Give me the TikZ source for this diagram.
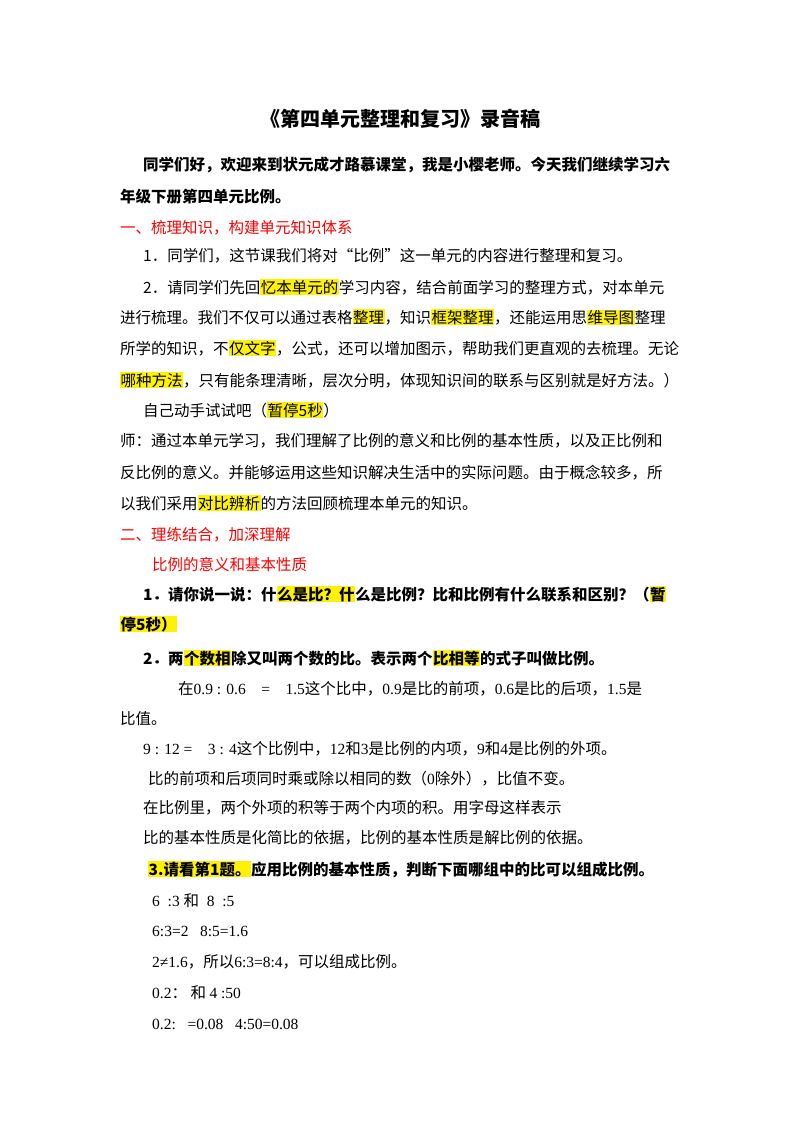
\documentclass[tikz,border=0pt]{standalone}
\usepackage{fontspec}
\setmainfont{Noto Sans CJK SC}
\newfontfamily\latinf{Liberation Serif}
\usepackage{xcolor}
\newcommand{\hl}[1]{{\setlength{\fboxsep}{0.5pt}\colorbox{yellow}{#1}}}
\begin{document}
\begin{tikzpicture}[x=1pt,y=-1pt,
  ln/.style={anchor=base west,inner sep=0pt,font=\fontsize{15.5}{18}\selectfont},
  bl/.style={ln,font=\fontsize{15.5}{18}\selectfont\bfseries},
  rd/.style={ln,text=red}]
\useasboundingbox[fill=white] (0,0) rectangle (800,1132);
\node[anchor=base,inner sep=0pt,font=\fontsize{20}{24}\selectfont\bfseries] (t) at (400,126) {《第四单元整理和复习》录音稿};
\node[bl] (l1) at (143,170) {同学们好，欢迎来到状元成才路慕课堂，我是小樱老师。今天我们继续学习六};
\node[bl] (l2) at (120,202) {年级下册第四单元比例。};
\node[rd] (l3) at (120,233) {一、梳理知识，构建单元知识体系};
\node[ln] (l4) at (143,261) {1．同学们，这节课我们将对“比例”这一单元的内容进行整理和复习。};
\node[ln] (l5) at (143,293) {2．请同学们先回\hl{忆本单元的}学习内容，结合前面学习的整理方式，对本单元};
\node[ln] (l6) at (120,323) {进行梳理。我们不仅可以通过表格\hl{整理}，知识\hl{框架整理}，还能运用思\hl{维导图}整理};
\node[ln] (l7) at (120,354) {所学的知识，不\hl{仅文字}，公式，还可以增加图示，帮助我们更直观的去梳理。无论};
\node[ln] (l8) at (120,386) {\hl{哪种方法}，只有能条理清晰，层次分明，体现知识间的联系与区别就是好方法。）};
\node[ln] (l9) at (143,416) {自己动手试试吧（\hl{暂停5秒}）};
\node[ln] (l10) at (120,446) {师：通过本单元学习，我们理解了比例的意义和比例的基本性质，以及正比例和};
\node[ln] (l11) at (120,478) {反比例的意义。并能够运用这些知识解决生活中的实际问题。由于概念较多，所};
\node[ln] (l12) at (120,509) {以我们采用\hl{对比辨析}的方法回顾梳理本单元的知识。};
\node[rd] (l13) at (120,540) {二、理练结合，加深理解};
\node[rd] (l14) at (152,570) {比例的意义和基本性质};
\node[bl] (l15) at (143,600) {1．请你说一说：什\hl{么是比？什}么是比例？比和比例有什么联系和区别？（\hl{暂}};
\node[bl] (l16) at (120,630) {\hl{停5秒）}};
\node[bl] (l17) at (143,664) {2．两\hl{个数相}除又叫两个数的比。表示两个\hl{比相等}的式子叫做比例。};
\node[ln] (l18) at (178,694) {在{\latinf 0.9 : 0.6}　{\latinf =}　{\latinf 1.5}这个比中，{\latinf 0.9}是比的前项，{\latinf 0.6}是比的后项，{\latinf 1.5}是};
\node[ln] (l19) at (120,724) {比值。};
\node[ln] (l20) at (143,754) {{\latinf 9 : 12 =}　{\latinf 3 : 4}这个比例中，{\latinf 12}和{\latinf 3}是比例的内项，{\latinf 9}和{\latinf 4}是比例的外项。};
\node[ln] (l21) at (148,784) {比的前项和后项同时乘或除以相同的数（{\latinf 0}除外），比值不变。};
\node[ln] (l22) at (143,813) {在比例里，两个外项的积等于两个内项的积。用字母这样表示};
\node[ln] (l23) at (143,843) {比的基本性质是化简比的依据，比例的基本性质是解比例的依据。};
\node[bl] (l24) at (148,875) {\hl{3.请看第1题。}应用比例的基本性质，判断下面哪组中的比可以组成比例。};
\node[ln] (l25) at (152,906) {\latinf 6 \ :3 \normalfont 和\latinf\ \ 8 \ :5};
\node[ln] (l26) at (152,936) {\latinf 6:3=2\ \ \ 8:5=1.6};
\node[ln] (l27) at (152,967) {{\latinf 2≠1.6}，所以{\latinf 6:3=8:4}，可以组成比例。};
\node[ln] (l28) at (152,998) {{\latinf 0.2}：\ 和\ {\latinf 4 :50}};
\node[ln] (l29) at (152,1029) {\latinf 0.2:\ \ \ =0.08\ \ \ 4:50=0.08};
\end{tikzpicture}
\end{document}
